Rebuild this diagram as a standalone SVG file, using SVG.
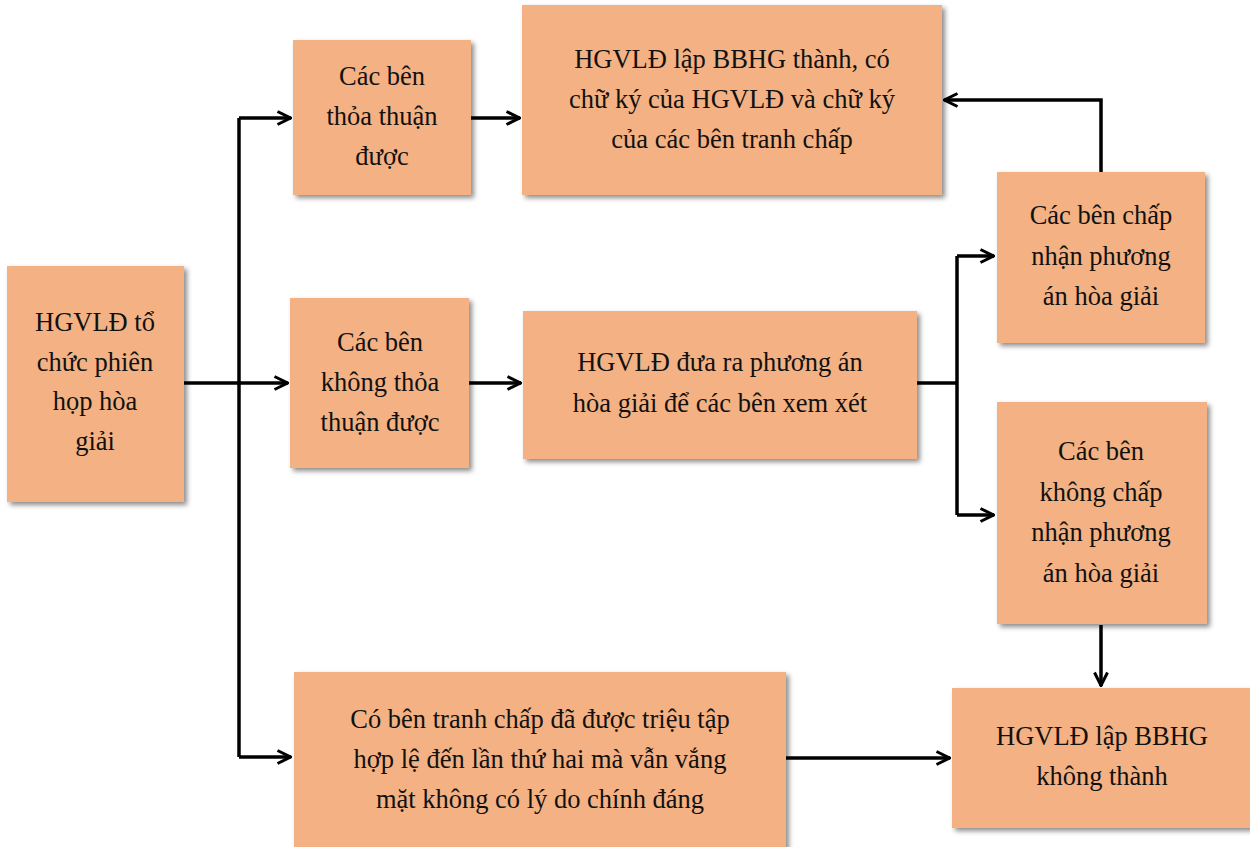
<svg xmlns="http://www.w3.org/2000/svg" width="1250" height="847" viewBox="0 0 1250 847">
<style>
.box{fill:#F4B183;filter:url(#sh);}
.t{font-family:'Liberation Serif','Times New Roman','DejaVu Serif',serif;font-size:26.5px;fill:#111;text-anchor:middle;}
.c{fill:none;stroke:#000;stroke-width:3.5;marker-end:url(#ah);}
.l{fill:none;stroke:#000;stroke-width:3.5;}
</style>
<defs>
<filter id="sh" x="-10%" y="-10%" width="130%" height="130%">
<feDropShadow dx="3" dy="3" stdDeviation="2.5" flood-color="#000" flood-opacity="0.45"/>
</filter>
<marker id="ah" viewBox="0 0 16 16" refX="15" refY="8" markerWidth="16" markerHeight="16" markerUnits="userSpaceOnUse" orient="auto">
<path d="M1.5,1.5 L14.5,8 L1.5,14.5" fill="none" stroke="#000" stroke-width="3"/>
</marker>
</defs>
<rect width="1250" height="847" fill="#fff"/>

<g id="connectors">
<path class="l" d="M184,383 H239"/>
<path class="l" d="M239,118 V757"/>
<path class="c" d="M239,118 H291"/>
<path class="c" d="M239,383 H288"/>
<path class="c" d="M239,757 H291"/>
<path class="c" d="M471,118 H520"/>
<path class="c" d="M469,383 H521"/>
<path class="l" d="M917,383 H957"/>
<path class="l" d="M957,256 V515"/>
<path class="c" d="M957,256 H994"/>
<path class="c" d="M957,515 H994"/>
<path class="c" d="M1101,172 V100 H944"/>
<path class="c" d="M1101,625 V686"/>
<path class="c" d="M786,758 H950"/>
</g>

<g id="n1"><rect class="box" x="7" y="266" width="177" height="236"/>
<text class="t" x="95" y="331">HGVLĐ tổ</text><text class="t" x="95" y="371">chức phiên</text><text class="t" x="95" y="410">họp hòa</text><text class="t" x="95" y="450">giải</text></g>

<g id="n2"><rect class="box" x="293" y="40" width="178" height="155"/>
<text class="t" x="382" y="85">Các bên</text><text class="t" x="382" y="125">thỏa thuận</text><text class="t" x="382" y="165">được</text></g>

<g id="n3"><rect class="box" x="522" y="5" width="420" height="190"/>
<text class="t" x="732" y="68">HGVLĐ lập BBHG thành, có</text><text class="t" x="732" y="108">chữ ký của HGVLĐ và chữ ký</text><text class="t" x="732" y="148">của các bên tranh chấp</text></g>

<g id="n4"><rect class="box" x="997" y="172" width="208" height="171"/>
<text class="t" x="1101" y="224">Các bên chấp</text><text class="t" x="1101" y="265">nhận phương</text><text class="t" x="1101" y="305">án hòa giải</text></g>

<g id="n5"><rect class="box" x="290" y="298" width="179" height="170"/>
<text class="t" x="380" y="351">Các bên</text><text class="t" x="380" y="391">không thỏa</text><text class="t" x="380" y="431">thuận được</text></g>

<g id="n6"><rect class="box" x="523" y="311" width="394" height="148"/>
<text class="t" x="720" y="371">HGVLĐ đưa ra phương án</text><text class="t" x="720" y="412">hòa giải để các bên xem xét</text></g>

<g id="n7"><rect class="box" x="997" y="402" width="210" height="222"/>
<text class="t" x="1101" y="460">Các bên</text><text class="t" x="1101" y="501">không chấp</text><text class="t" x="1101" y="541">nhận phương</text><text class="t" x="1101" y="582">án hòa giải</text></g>

<g id="n8"><rect class="box" x="952" y="688" width="300" height="140"/>
<text class="t" x="1102" y="745">HGVLĐ lập BBHG</text><text class="t" x="1102" y="785">không thành</text></g>

<g id="n9"><rect class="box" x="294" y="672" width="492" height="180"/>
<text class="t" x="540" y="728">Có bên tranh chấp đã được triệu tập</text><text class="t" x="540" y="768">hợp lệ đến lần thứ hai mà vẫn vắng</text><text class="t" x="540" y="808">mặt không có lý do chính đáng</text></g>
</svg>
